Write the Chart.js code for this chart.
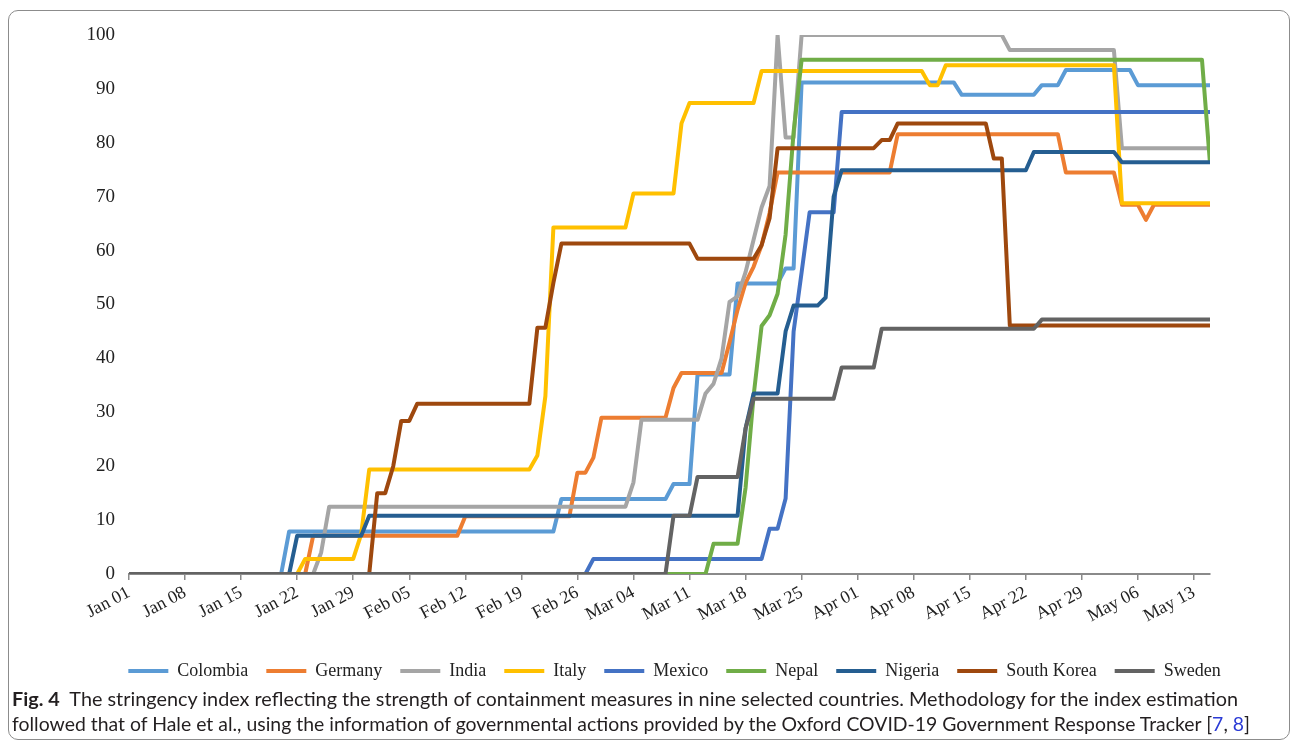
<!DOCTYPE html>
<html><head><meta charset="utf-8">
<script src="https://cdn.jsdelivr.net/npm/chart.js@4.4.0/dist/chart.umd.min.js"></script>
<style>
html,body{margin:0;padding:0;background:#fff;width:1295px;height:745px;overflow:hidden}
#frame{position:absolute;left:8px;top:10px;width:1282px;height:730px;border:1px solid #8c8c8c;border-radius:10px;box-sizing:border-box}
#wrap{position:absolute;left:0;top:0;width:1295px;height:690px}
.cap{position:absolute;left:12px;white-space:nowrap;font-family:Lato,'Open Sans',sans-serif;font-size:19px;color:#231f20;transform-origin:0 50%;line-height:24px}
#cap1{top:687px}
#cap2{top:712px}
.ref{color:#2b3bd6}
</style></head><body>
<div id="frame"></div>
<div id="wrap"><canvas id="c"></canvas></div>
<div class="cap" id="cap1"><b>Fig. 4</b>&nbsp; The stringency index reflecting the strength of containment measures in nine selected countries. Methodology for the index estimation</div>
<div class="cap" id="cap2">followed that of Hale et al., using the information of governmental actions provided by the Oxford COVID-19 Government Response Tracker [<span class="ref">7</span>, <span class="ref">8</span>]</div>
<script>
// Days counted from Jan 01 (day 0) to May 15 (day 135), 2020
const tickDays = [0,7,14,21,28,35,42,49,56,63,70,77,84,91,98,105,112,119,126,133];
const tickLabels = ['Jan 01','Jan 08','Jan 15','Jan 22','Jan 29','Feb 05','Feb 12','Feb 19','Feb 26','Mar 04','Mar 11','Mar 18','Mar 25','Apr 01','Apr 08','Apr 15','Apr 22','Apr 29','May 06','May 13'];
const yTicks = [0,10,20,30,40,50,60,70,80,90,100];

const countries = ['Colombia','Germany','India','Italy','Mexico','Nepal','Nigeria','South Korea','Sweden'];

const colombiaDays   = [0,19,20,53,54,67,68,70,71,75,76,81,82,83,84,103,104,113,114,116,117,125,126,135];
const colombiaValues = [0,0,7.9,7.9,13.9,13.9,16.7,16.7,37,37,53.9,53.9,56.7,56.7,91.2,91.2,88.9,88.9,90.7,90.7,93.5,93.5,90.7,90.7];

const germanyDays   = [0,22,23,41,42,55,56,57,58,59,67,68,69,74,75,76,77,78,79,80,81,95,96,116,117,123,124,126,127,128,135];
const germanyValues = [0,0,7.1,7.1,10.7,10.7,18.8,18.8,21.6,29,29,34.5,37.3,37.3,43,49,54,57,61,67,74.5,74.5,81.6,81.6,74.5,74.5,68.5,68.5,65.7,68.5,68.5];

const indiaDays   = [0,23,24,25,62,63,64,71,72,73,74,75,76,77,78,79,80,81,82,83,84,109,110,123,124,135];
const indiaValues = [0,0,4,12.5,12.5,17,28.6,28.6,33.5,35.3,40,50.5,51.5,56,62,68,72,100,81,81,100,100,97.2,97.2,79,79];

const italyDays   = [0,21,22,28,29,30,50,51,52,53,62,63,68,69,70,78,79,99,100,101,102,123,124,135];
const italyValues = [0,0,2.8,2.8,7.4,19.4,19.4,22,33,64.3,64.3,70.6,70.6,83.6,87.4,87.4,93.3,93.3,90.7,90.7,94.4,94.4,68.8,68.8];

const mexicoDays   = [0,57,58,79,80,81,82,83,84,85,88,89,135];
const mexicoValues = [0,0,2.8,2.8,8.4,8.4,14,45,56,67.1,67.1,85.7,85.7];

const nepalDays   = [0,72,73,76,77,78,79,80,81,82,83,84,134,135];
const nepalValues = [0,0,5.6,5.6,16,33,46,48,52,63,82,95.4,95.4,76.2];

const nigeriaDays   = [0,20,21,29,30,76,77,78,81,82,83,86,87,88,89,112,113,123,124,135];
const nigeriaValues = [0,0,7.1,7.1,10.8,10.8,27,33.5,33.5,45,49.8,49.8,51.3,70,74.9,74.9,78.3,78.3,76.4,76.4];

const southKoreaDays   = [0,30,31,32,33,34,35,36,50,51,52,53,54,70,71,78,79,80,81,93,94,95,96,107,108,109,110,135];
const southKoreaValues = [0,0,15,15,20,28.4,28.4,31.6,31.6,45.7,45.7,54,61.3,61.3,58.5,58.5,61,66,79,79,80.5,80.5,83.6,83.6,77.1,77.1,46.1,46.1];

const swedenDays   = [0,67,68,70,71,76,77,78,88,89,93,94,113,114,135];
const swedenValues = [0,0,10.8,10.8,18,18,27,32.5,32.5,38.3,38.3,45.5,45.5,47.2,47.2];

const seriesDays = [colombiaDays,germanyDays,indiaDays,italyDays,mexicoDays,nepalDays,nigeriaDays,southKoreaDays,swedenDays];
const seriesValues = [colombiaValues,germanyValues,indiaValues,italyValues,mexicoValues,nepalValues,nigeriaValues,southKoreaValues,swedenValues];
const colors = ['#5B9BD5','#ED7D31','#A5A5A5','#FFC000','#4472C4','#70AD47','#255E91','#9E480E','#636363'];

const datasets = countries.map((name,i)=>({
  label: name,
  data: seriesDays[i].map((d,j)=>({x:d,y:seriesValues[i][j]})),
  borderColor: colors[i],
  backgroundColor: colors[i],
  borderWidth: 4,
  pointRadius: 0,
  pointHoverRadius: 0,
  fill: false,
  tension: 0,
  borderJoinStyle: 'round',
  order: countries.length - i
}));

const serif = "'Liberation Serif','Times New Roman',serif";

new Chart(document.getElementById('c'), {
  type: 'line',
  data: { datasets },
  options: {
    responsive: true,
    maintainAspectRatio: false,
    animation: false,
    layout: { padding: { left: 54, right: 0, top: 35, bottom: 0 } },
    plugins: {
      tooltip: { enabled: false },
      legend: {
        position: 'bottom',
        labels: {
          usePointStyle: true,
          pointStyle: 'line',
          pointStyleWidth: 40,
          padding: 18,
          color: '#222',
          font: { family: serif, size: 18 },
          sort: (a,b)=>a.datasetIndex-b.datasetIndex
        }
      }
    },
    scales: {
      x: {
        type: 'linear',
        min: 0, max: 135,
        afterBuildTicks: (s)=>{ s.ticks = tickDays.map(v=>({value:v})); },
        afterFit: (s)=>{ s.height = 70; },
        ticks: {
          autoSkip: false,
          minRotation: 28, maxRotation: 28,
          padding: 2,
          color: '#222',
          font: { family: serif, size: 18 },
          callback: (v)=>{ const k = tickDays.indexOf(v); return k>=0 ? tickLabels[k] : ''; }
        },
        grid: { display: true, drawOnChartArea: false, drawTicks: true, tickLength: 6, color: '#8a8a8a', lineWidth: 1.5 },
        border: { display: true, color: '#8a8a8a', width: 2 }
      },
      y: {
        min: 0, max: 100,
        afterBuildTicks: (s)=>{ s.ticks = yTicks.map(v=>({value:v})); },
        afterFit: (s)=>{ s.width = 75; },
        ticks: { padding: 6, color: '#222', font: { family: serif, size: 19 } },
        grid: { display: false },
        border: { display: false }
      },
      yRight: {
        position: 'right',
        display: true,
        min: 0, max: 100,
        afterFit: (s)=>{ s.width = 85; },
        ticks: { display: false },
        grid: { display: false },
        border: { display: false }
      }
    }
  }
});

function fit(id, target){
  const el = document.getElementById(id);
  const w = el.getBoundingClientRect().width;
  el.style.transform = 'scaleX(' + (target / w) + ')';
}
fit('cap1', 1226);
fit('cap2', 1238);
</script>
</body></html>
